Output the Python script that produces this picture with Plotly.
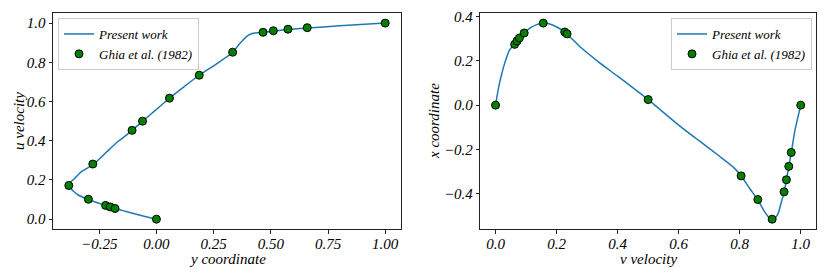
import plotly.graph_objects as go

# ---- Left panel data ----
ghia_left_x = [1.0, 0.65928, 0.57492, 0.51117, 0.46604, 0.33304, 0.18719, 0.05702, -0.06080,
               -0.10648, -0.27805, -0.38289, -0.29730, -0.22220, -0.20196, -0.18109, 0.0]
ghia_left_y = [1.0, 0.9766, 0.9688, 0.9609, 0.9531, 0.8516, 0.7344, 0.6172, 0.5,
               0.4531, 0.2813, 0.1719, 0.1016, 0.0703, 0.0625, 0.0547, 0.0]

present_left_x = [0.0, -0.05, -0.10, -0.15, -0.19, -0.24, -0.30, -0.34, -0.365, -0.38, -0.378,
                  -0.36, -0.33, -0.30, -0.27, -0.22, -0.17, -0.13, -0.106, -0.06, 0.0, 0.057,
                  0.12, 0.187, 0.26, 0.333, 0.36, 0.38, 0.395, 0.41, 0.43, 0.466, 0.511, 0.575,
                  0.659, 0.8, 1.0]
present_left_y = [0.0, 0.014, 0.029, 0.045, 0.058, 0.077, 0.102, 0.122, 0.145, 0.165, 0.185,
                  0.205, 0.240, 0.262, 0.285, 0.340, 0.395, 0.430, 0.453, 0.500, 0.560, 0.617,
                  0.675, 0.734, 0.790, 0.850, 0.890, 0.915, 0.932, 0.943, 0.949, 0.953, 0.959, 0.967,
                  0.975, 0.986, 1.0]

# ---- Right panel data ----
ghia_right_x = [0.0, 0.0625, 0.0703, 0.0781, 0.0938, 0.1563, 0.2266, 0.2344, 0.5, 0.8047,
                0.8594, 0.9063, 0.9453, 0.9531, 0.9609, 0.9688, 1.0]
ghia_right_y = [0.0, 0.27485, 0.29012, 0.30353, 0.32627, 0.37095, 0.33075, 0.32235, 0.02526,
                -0.31966, -0.42665, -0.51550, -0.39188, -0.33714, -0.27669, -0.21388, 0.0]

present_right_x = [0.0, 0.006, 0.013, 0.02, 0.03, 0.046, 0.0625, 0.078, 0.094, 0.115, 0.135,
                   0.156, 0.18, 0.205, 0.227, 0.25, 0.276, 0.336, 0.4, 0.5, 0.6, 0.67, 0.735,
                   0.779, 0.805, 0.834, 0.859, 0.883, 0.897, 0.907, 0.918, 0.927, 0.936, 0.946,
                   0.953, 0.961, 0.969, 0.981, 1.0]
present_right_y = [0.0, 0.05, 0.10, 0.14, 0.19, 0.25, 0.275, 0.303, 0.326, 0.350, 0.364,
                   0.371, 0.366, 0.350, 0.331, 0.300, 0.265, 0.197, 0.131, 0.025, -0.090, -0.164,
                   -0.232, -0.280, -0.320, -0.379, -0.427, -0.485, -0.510, -0.518, -0.508, -0.485,
                   -0.440, -0.392, -0.337, -0.277, -0.214, -0.114, 0.0]

# axis titles (as in the reference)
left_xtitle, left_ytitle = "y coordinate", "u velocity"
right_xtitle, right_ytitle = "v velocity", "x coordinate"

LINE_COLOR = "#1f77b4"
FONT = "Liberation Serif"

# page offset (body margin) compensation
OFF = 8
W, H = 830, 277


def px_x(p):
    return (p - OFF) / W


def px_y(p):
    return (H - (p - OFF)) / H


fig = go.Figure()

fig.add_trace(go.Scatter(x=present_left_x, y=present_left_y, mode="lines",
                         line=dict(color=LINE_COLOR, width=1.5, shape="spline", smoothing=0.5),
                         name="Present work", xaxis="x", yaxis="y", legend="legend"))
fig.add_trace(go.Scatter(x=ghia_left_x, y=ghia_left_y, mode="markers",
                         marker=dict(color="green", size=8, line=dict(color="black", width=1)),
                         name="Ghia et al. (1982)", xaxis="x", yaxis="y", legend="legend"))
fig.add_trace(go.Scatter(x=present_right_x, y=present_right_y, mode="lines",
                         line=dict(color=LINE_COLOR, width=1.5, shape="spline", smoothing=0.5),
                         name="Present work", xaxis="x2", yaxis="y2", legend="legend2"))
fig.add_trace(go.Scatter(x=ghia_right_x, y=ghia_right_y, mode="markers",
                         marker=dict(color="green", size=8, line=dict(color="black", width=1)),
                         name="Ghia et al. (1982)", xaxis="x2", yaxis="y2", legend="legend2"))

tickfont = dict(family=FONT, size=15, color="black", style="italic")
titlefont = dict(family=FONT, size=15, color="black", style="italic")

axis_common = dict(showline=True, linecolor="#222", linewidth=1, mirror=True,
                   ticks="outside", ticklen=3.5, tickcolor="#222", showgrid=False,
                   zeroline=False, tickfont=tickfont, automargin=False)

legend_font = dict(family=FONT, size=13, color="black", style="italic")

fig.update_layout(
    width=W, height=H,
    margin=dict(l=0, r=0, t=0, b=0),
    font=dict(family=FONT),
    paper_bgcolor="white", plot_bgcolor="white",
    xaxis=dict(domain=[px_x(53), px_x(401)], range=[-0.452, 1.069], tick0=0, dtick=0.25,
               tickformat=".2f", anchor="y", ticklabelstandoff=-3, **axis_common),
    yaxis=dict(domain=[px_y(229), px_y(13.3)], range=[-0.05, 1.05], tick0=0, dtick=0.2,
               tickformat=".1f", anchor="x", **axis_common),
    xaxis2=dict(domain=[px_x(480.3), px_x(816)], range=[-0.05, 1.05], tick0=0, dtick=0.2,
                tickformat=".1f", anchor="y2", ticklabelstandoff=-3, **axis_common),
    yaxis2=dict(domain=[px_y(229), px_y(13.3)], range=[-0.5598, 0.4153], tick0=0, dtick=0.2,
                tickformat=".1f", anchor="x2", **axis_common),
    legend=dict(x=px_x(58), y=px_y(18), xanchor="left", yanchor="top",
                xref="paper", yref="paper", font=legend_font,
                bgcolor="rgba(255,255,255,0.8)", bordercolor="#cccccc", borderwidth=1,
                tracegroupgap=0, itemwidth=30),
    legend2=dict(x=px_x(812), y=px_y(18), xanchor="right", yanchor="top",
                 xref="paper", yref="paper", font=legend_font,
                 bgcolor="rgba(255,255,255,0.8)", bordercolor="#cccccc", borderwidth=1,
                 tracegroupgap=0, itemwidth=30),
)

# axis titles placed like the reference
title_specs = [
    (left_xtitle, px_x(227), px_y(259), 0),
    (left_ytitle, px_x(19), px_y(121), -90),
    (right_xtitle, px_x(648), px_y(259), 0),
    (right_ytitle, px_x(434), px_y(121), -90),
]
for text, ax, ay, ang in title_specs:
    fig.add_annotation(text=text, x=ax, y=ay, xref="paper", yref="paper",
                       xanchor="center", yanchor="middle", showarrow=False,
                       textangle=ang, font=titlefont)

fig.write_html("out.html")
